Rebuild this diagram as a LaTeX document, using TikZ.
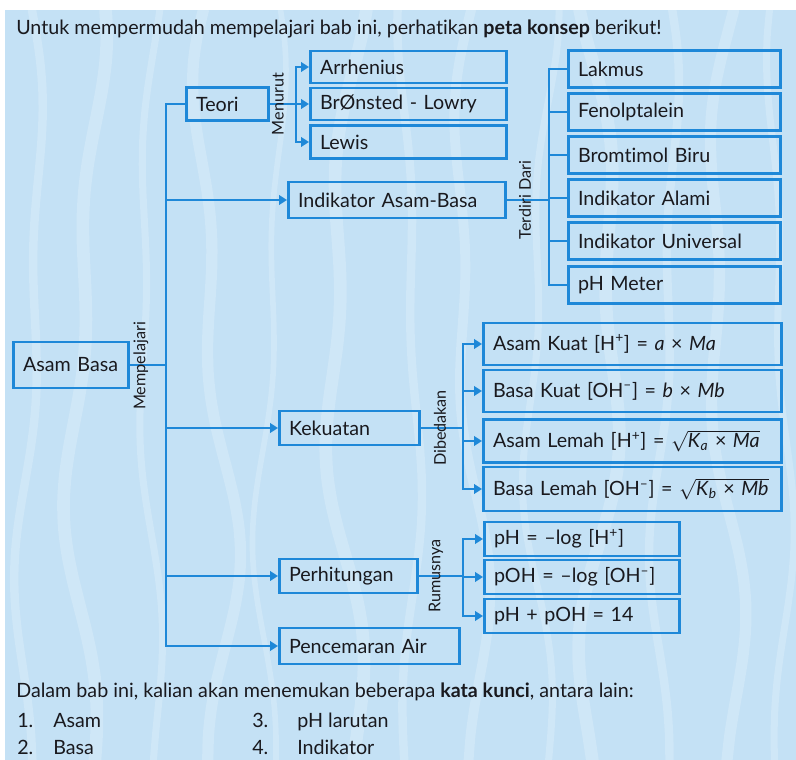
\documentclass[tikz,border=0pt]{standalone}
\usepackage{fontspec}
\setmainfont{Lato}[Ligatures=NoCommon]
\usetikzlibrary{arrows.meta}

\definecolor{biru}{RGB}{30,136,216}
\definecolor{latar}{RGB}{196,225,245}
\definecolor{tinta}{RGB}{25,25,30}

\tikzset{
  kotak/.style={draw=biru,line width=2pt,anchor=west,inner xsep=0.24cm,inner ysep=0pt,
                align=left,text=tinta,font=\fontsize{14}{16}\selectfont},
  lebar/.code={\pgfmathsetmacro\lbr{#1*0.025-0.48}%
               \pgfkeysalso{minimum width=#1*0.025cm,text width=\lbr cm}},
  tinggi/.style={minimum height=#1*0.025cm},
  garis/.style={draw=biru,line width=2pt},
  panah/.style={garis,-{Triangle[length=2mm,width=2.4mm]}},
  ket/.style={rotate=90,inner sep=0pt,text=tinta,font=\fontsize{11.5}{13}\selectfont},
  teks/.style={anchor=base west,inner sep=0pt,text=tinta,font=\fontsize{14}{16}\selectfont},
  serat/.style={white,opacity=.2,line width=#1,line cap=round}
}

\begin{document}
\begin{tikzpicture}[x=0.025cm,y=-0.025cm]
  \useasboundingbox (0,0) rectangle (796,760);
  \fill[latar] (5,10) rectangle (796,760);
  % serat kayu di latar
  \begin{scope}
    \clip (5,10) rectangle (796,760);
    \foreach \gx/\ga/\gp/\gw in {30/10/0/6pt,85/14/60/9pt,150/9/130/5pt,215/16/200/8pt,
                                 270/11/30/4pt,345/15/110/9pt,410/8/250/6pt,470/13/170/7pt,
                                 540/12/80/5pt,600/16/300/9pt,665/10/20/6pt,725/14/150/8pt,
                                 780/9/220/5pt}
      \draw[serat=\gw] plot[smooth,domain=10:760,samples=30]
        ({\gx+\ga*sin(\x*0.45+\gp)+0.6*\ga*sin(\x*1.1+\gp)},\x);
  \end{scope}

  \node[teks] (judul) at (16,35)
    {Untuk mempermudah mempelajari bab ini, perhatikan \textbf{peta konsep} berikut!};

  % induk dan cabang utama
  \node[kotak,lebar=115,tinggi=46] (asambasa) at (12,365) {Asam Basa};
  \node[kotak,lebar=82,tinggi=33] (teori) at (185,104) {Teori};
  \node[kotak,lebar=217,tinggi=36] (indikator) at (287,200) {Indikator Asam-Basa};
  \node[kotak,lebar=140,tinggi=34] (kekuatan) at (278,428) {Kekuatan};
  \node[kotak,lebar=138,tinggi=34] (perhitungan) at (278,576) {Perhitungan};
  \node[kotak,lebar=180,tinggi=36] (pencemaran) at (278,646) {Pencemaran Air};

  % teori
  \node[kotak,lebar=196,tinggi=32] (arrh) at (309,67) {Arrhenius};
  \node[kotak,lebar=196,tinggi=32] (bron) at (309,104) {BrØnsted - Lowry};
  \node[kotak,lebar=196,tinggi=33] (lewis) at (309,142) {Lewis};

  % jenis indikator
  \node[kotak,lebar=212,tinggi=37] (lakmus) at (567,69) {Lakmus};
  \node[kotak,lebar=212,tinggi=37] (fenol) at (567,112) {Fenolptalein};
  \node[kotak,lebar=212,tinggi=37] (bromtimol) at (567,155) {Bromtimol Biru};
  \node[kotak,lebar=212,tinggi=37] (alami) at (567,198) {Indikator Alami};
  \node[kotak,lebar=212,tinggi=37] (universal) at (567,241) {Indikator Universal};
  \node[kotak,lebar=212,tinggi=37] (phmeter) at (567,285) {pH Meter};

  % kekuatan asam basa
  \node[kotak,lebar=298,tinggi=42] (akuat) at (482,344)
    {Asam Kuat [H\textsuperscript{+}] = \textit{a} × \textit{Ma}};
  \node[kotak,lebar=298,tinggi=42] (bkuat) at (482,391)
    {Basa Kuat [OH\textsuperscript{–}] = \textit{b} × \textit{Mb}};
  \node[kotak,lebar=298,tinggi=43] (alemah) at (482,441)
    {Asam Lemah [H\textsuperscript{+}] = $\sqrt{\mbox{\textit{K}\textsubscript{\textit{a}} × \textit{Ma}}}$};
  \node[kotak,lebar=298,tinggi=44] (blemah) at (482,489)
    {Basa Lemah [OH\textsuperscript{–}] = $\sqrt{\mbox{\textit{K}\textsubscript{\textit{b}} × \textit{Mb}}}$};

  % rumus
  \node[kotak,lebar=195,tinggi=34] (ph) at (483,539) {pH = –log [H\textsuperscript{+}]};
  \node[kotak,lebar=195,tinggi=34] (poh) at (483,577) {pOH = –log [OH\textsuperscript{–}]};
  \node[kotak,lebar=195,tinggi=34] (jumlah) at (483,616) {pH + pOH = 14};

  % garis penghubung
  \coordinate (tulang) at (166,646);
  \draw[panah] (teori.west) -| (tulang) -- (pencemaran.west);
  \draw[garis] (asambasa.east) -- (asambasa.east -| tulang);
  \foreach \n in {indikator,kekuatan,perhitungan}
    \draw[panah] (\n.west -| tulang) -- (\n.west);

  \coordinate (cabA) at (296,104);
  \draw[garis] (teori.east) -- (cabA);
  \foreach \n in {arrh,bron,lewis}
    \draw[panah] (cabA) |- (\n.west);

  \coordinate (cabB) at (549,200);
  \draw[garis] (indikator.east) -- (cabB);
  \foreach \n in {lakmus,fenol,bromtimol,alami,universal,phmeter}
    \draw[garis] (cabB) |- (\n.west);

  \coordinate (cabC) at (463,428);
  \draw[garis] (kekuatan.east) -- (cabC);
  \foreach \n in {akuat,bkuat,alemah,blemah}
    \draw[panah] (cabC) |- (\n.west);

  \coordinate (cabD) at (463,576);
  \draw[garis] (perhitungan.east) -- (cabD);
  \foreach \n in {ph,poh,jumlah}
    \draw[panah] (cabD) |- (\n.west);

  % keterangan pada garis
  \node[ket] (kMempelajari) at (141,366) {Mempelajari};
  \node[ket] (kMenurut) at (278,104) {Menurut};
  \node[ket] (kTerdiri) at (525,200) {Terdiri Dari};
  \node[ket] (kDibedakan) at (440,428) {Dibedakan};
  \node[ket] (kRumusnya) at (436,576) {Rumusnya};

  % kata kunci
  \node[teks] (pengantar) at (16,697)
    {Dalam bab ini, kalian akan menemukan beberapa \textbf{kata kunci}, antara lain:};
  \node[teks] (no1) at (17,727) {1.};
  \node[teks] (kk1) at (53,727) {Asam};
  \node[teks] (no2) at (17,754) {2.};
  \node[teks] (kk2) at (53,754) {Basa};
  \node[teks] (no3) at (252,727) {3.};
  \node[teks] (kk3) at (297,727) {pH larutan};
  \node[teks] (no4) at (252,754) {4.};
  \node[teks] (kk4) at (297,754) {Indikator};
\end{tikzpicture}
\end{document}
